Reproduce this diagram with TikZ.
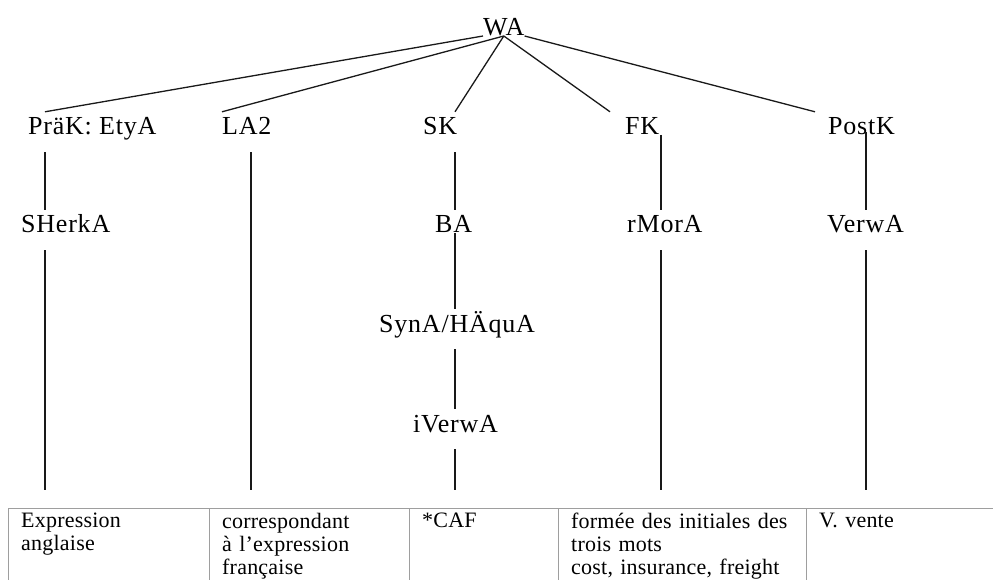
\documentclass[tikz,border=0pt]{standalone}
\usepackage{fontspec}
\setmainfont{Liberation Serif}
\newfontfamily\treefont{Liberation Serif}[LetterSpace=3]
\newfontfamily\cellfont{Liberation Serif}[LetterSpace=1]
\usepackage{tikz}

\begin{document}
\begin{tikzpicture}[x=1pt, y=-1pt,
    lbl/.style={anchor=base west, inner xsep=0pt, inner ysep=9pt,
        text height=14pt, text depth=8pt, font=\treefont\fontsize{26}{30}\selectfont},
    cell/.style={anchor=north west, inner xsep=13pt, inner ysep=5pt, align=left,
        font=\cellfont\fontsize{22}{23}\selectfont},
    tie/.style={draw=black!90, line width=1.3pt},
    totab/.style={tie, shorten >=18pt},
    rule/.style={draw=black!38, line width=1pt}]
    \useasboundingbox (0,0) rectangle (993,580);

    \coordinate (c1) at (45,0);
    \coordinate (c2) at (251,0);
    \coordinate (c3) at (455,0);
    \coordinate (c4) at (661,0);
    \coordinate (c5) at (866,0);

    \node[lbl] (wa) at (483,36) {WA};

    \node[lbl] (prak)  at (28,135)  {PräK: EtyA};
    \node[lbl] (la)    at (222,135) {LA2};
    \node[lbl] (sk)    at (423,135) {SK};
    \node[lbl] (fk)    at (625,135) {FK};
    \node[lbl] (postk) at (828,135) {PostK};

    \node[lbl] (sherk) at (21,233)  {SHerkA};
    \node[lbl] (ba)    at (435,233) {BA};
    \node[lbl] (rmor)  at (627,233) {rMorA};
    \node[lbl] (verw)  at (827,233) {VerwA};
    \node[lbl] (syn)   at (379,332) {SynA/HÄquA};
    \node[lbl] (iverw) at (413,432) {iVerwA};

    \node[cell, text width=175pt] (t1) at (8,508)   {Expression\\anglaise};
    \node[cell, text width=174pt] (t2) at (209,508) {correspondant\\à l’expression\\française};
    \node[cell, text width=123pt] (t3) at (409,508) {*CAF};
    \node[cell, text width=222pt] (t4) at (558,508) {formée des initiales des\\trois mots\\cost, insurance, freight};
    \node[cell, text width=174pt] (t5) at (806,508) {V. vente};

    \coordinate (bot) at (0,600);
    \coordinate (rt) at (1000,508);
    \draw[rule] (t1.north west) -- (rt);
    \foreach \t in {t1,t2,t3,t4,t5}
        \draw[rule] (\t.north west) -- (\t.north west |- bot);

    \draw[tie] (wa.base west) -- (prak.north -| c1);
    \draw[tie] (wa.base) -- (la.north west);
    \draw[tie] (wa.base) -- (sk.north -| c3);
    \draw[tie] (wa.base) -- ([xshift=-15pt]fk.north west);
    \draw[tie] (wa.base east) -- ([xshift=-13pt]postk.north west);

    \draw[tie] (prak.south -| c1) -- (sherk.north -| c1);
    \draw[totab] (sherk.south -| c1) -- (t1.north -| c1);
    \draw[totab] (la.south -| c2) -- (t2.north -| c2);
    \draw[tie] (sk.south -| c3) -- (ba.north -| c3);
    \draw[tie] (ba.base -| c3) -- (syn.north -| c3);
    \draw[tie] (syn.south -| c3) -- (iverw.north -| c3);
    \draw[totab] (iverw.south -| c3) -- (t3.north -| c3);
    \draw[tie] (fk.base -| c4) -- (rmor.north -| c4);
    \draw[totab] (rmor.south -| c4) -- (t4.north -| c4);
    \draw[tie] (postk.center -| c5) -- (verw.north -| c5);
    \draw[totab] (verw.south -| c5) -- (t5.north -| c5);
\end{tikzpicture}
\end{document}
